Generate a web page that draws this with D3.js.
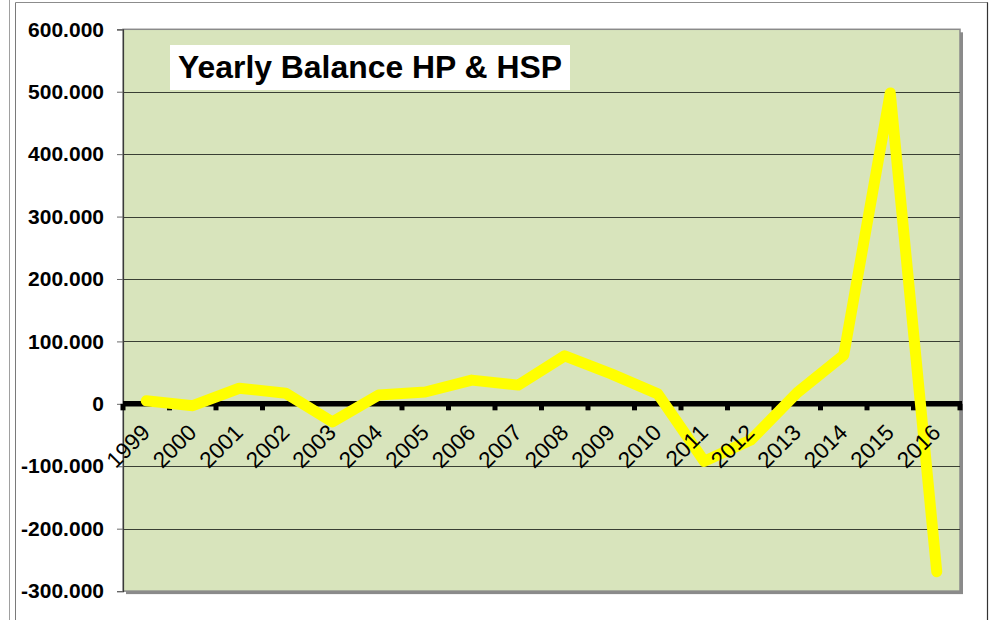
<!DOCTYPE html>
<html>
<head>
<meta charset="utf-8">
<script src="https://cdn.jsdelivr.net/npm/d3@7"></script>
<style>
  html, body { margin: 0; padding: 0; background: #ffffff; }
  svg { display: block; font-family: "Liberation Sans", Arial, sans-serif; }
</style>
</head>
<body>
<svg id="chart" width="1000" height="620"></svg>
<script>
// ---- data ----
const years = ["1999","2000","2001","2002","2003","2004","2005","2006","2007","2008",
               "2009","2010","2011","2012","2013","2014","2015","2016"];
const balance = [5, -3, 25, 17, -29, 14, 19, 38, 30, 77, 48, 16, -92, -58, 18, 78, 498, -269]; // thousands
const yTicks = [-300, -200, -100, 0, 100, 200, 300, 400, 500, 600];
const yTickLabels = ["-300.000","-200.000","-100.000","0","100.000","200.000","300.000","400.000","500.000","600.000"];
const title = "Yearly Balance HP & HSP";

// ---- layout ----
const svg = d3.select("#chart");
const plot = { left: 123, right: 960, top: 29.3, bottom: 591.1 };

const x = d3.scaleBand().domain(years).range([plot.left, plot.right]).padding(0);
const y = d3.scaleLinear().domain([-300, 600]).range([plot.bottom, plot.top]);

// outer frame lines
svg.append("line").attr("x1", 9.5).attr("x2", 9.5).attr("y1", 0).attr("y2", 620)
  .attr("stroke", "#a0a0a0").attr("stroke-width", 1);
svg.append("line").attr("x1", 15.5).attr("x2", 15.5).attr("y1", 2.5).attr("y2", 620)
  .attr("stroke", "#7a7a7a").attr("stroke-width", 1);
svg.append("line").attr("x1", 15.5).attr("x2", 988).attr("y1", 2.5).attr("y2", 2.5)
  .attr("stroke", "#8c8c8c").attr("stroke-width", 1.2);
svg.append("line").attr("x1", 987.5).attr("x2", 987.5).attr("y1", 2.5).attr("y2", 620)
  .attr("stroke", "#333333").attr("stroke-width", 1.2);

// plot area shadow + background
svg.append("rect")
  .attr("x", plot.left + 3).attr("y", plot.top + 3)
  .attr("width", plot.right - plot.left).attr("height", plot.bottom - plot.top)
  .attr("fill", "#8a8a8a");
svg.append("rect")
  .attr("x", plot.left).attr("y", plot.top)
  .attr("width", plot.right - plot.left).attr("height", plot.bottom - plot.top)
  .attr("fill", "#D8E4BC").attr("stroke", "#8a8a8a").attr("stroke-width", 1.5);

// gridlines
svg.append("g").selectAll("line")
  .data(yTicks.filter(d => d !== 0 && d !== -300 && d !== 600))
  .join("line")
  .attr("x1", plot.left).attr("x2", plot.right)
  .attr("y1", d => Math.round(y(d)) + 0.5).attr("y2", d => Math.round(y(d)) + 0.5)
  .attr("stroke", "#3a3f34").attr("stroke-width", 1);

// y axis
const yAxis = d3.axisLeft(y).tickValues(yTicks)
  .tickFormat((d, i) => yTickLabels[i]).tickSize(6).tickPadding(13);
const gy = svg.append("g").attr("transform", `translate(${plot.left},0)`).call(yAxis);
gy.select(".domain").attr("stroke", "#3a3a3a").attr("stroke-width", 1.2);
gy.selectAll(".tick line").attr("stroke", "#6a6a6a");
gy.selectAll(".tick text").attr("fill", "#000").attr("font-size", 21)
  .attr("font-weight", "bold").attr("font-family", "'Liberation Sans', Arial, sans-serif");

// title box
svg.append("rect").attr("x", 170).attr("y", 45).attr("width", 400).attr("height", 45).attr("fill", "#ffffff");
svg.append("text").attr("x", 178).attr("y", 78).attr("font-size", 30.5).attr("font-weight", "bold")
  .attr("textLength", 384).attr("lengthAdjust", "spacingAndGlyphs")
  .attr("fill", "#000").text(title);

// zero axis (category axis)
const y0 = y(0);
svg.append("line").attr("x1", plot.left).attr("x2", plot.right + 2)
  .attr("y1", y0).attr("y2", y0).attr("stroke", "#000").attr("stroke-width", 5.5);
const boundaries = years.map(d => x(d)).concat([x(years[years.length - 1]) + x.bandwidth()]);
svg.append("g").selectAll("line").data(boundaries).join("line")
  .attr("x1", d => d).attr("x2", d => d)
  .attr("y1", y0).attr("y2", y0 + 6.5)
  .attr("stroke", "#000").attr("stroke-width", 5);

// series line
const line = d3.line()
  .x((d, i) => x(years[i]) + x.bandwidth() / 2)
  .y(d => y(d));
svg.append("path").datum(balance)
  .attr("d", line).attr("fill", "none")
  .attr("stroke", "#FFFF00").attr("stroke-width", 11)
  .attr("stroke-linejoin", "round").attr("stroke-linecap", "round");

// category labels (drawn above the line, as in the reference)
svg.append("g").selectAll("text").data(years).join("text")
  .attr("transform", d => `translate(${x(d) + x.bandwidth() / 2 + 5},${y0 + 30}) rotate(-45)`)
  .attr("text-anchor", "end").attr("font-size", 22.5).attr("fill", "#000")
  .text(d => d);
</script>
</body>
</html>
